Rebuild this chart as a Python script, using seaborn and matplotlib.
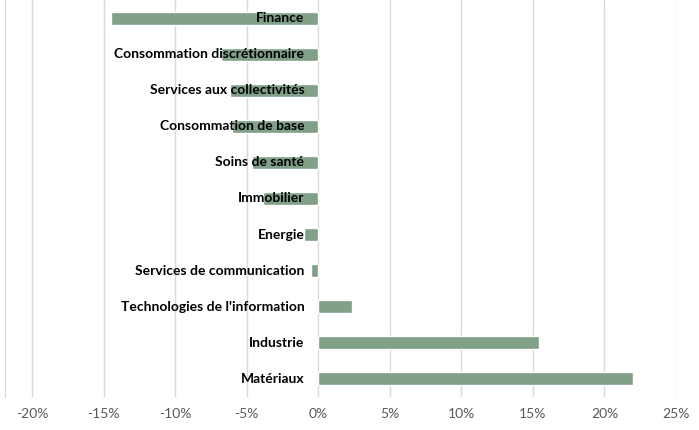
import matplotlib
matplotlib.use("Agg")
import matplotlib.pyplot as plt
import seaborn as sns
import pandas as pd
from matplotlib.ticker import FuncFormatter

# Données (performance par secteur)
secteurs = [
    "Finance",
    "Consommation discrétionnaire",
    "Services aux collectivités",
    "Consommation de base",
    "Soins de santé",
    "Immobilier",
    "Energie",
    "Services de communication",
    "Technologies de l'information",
    "Industrie",
    "Matériaux",
]
performances = [-0.145, -0.068, -0.062, -0.0605, -0.0465, -0.039, -0.010, -0.005, 0.0235, 0.1545, 0.220]

df = pd.DataFrame({"Secteur": secteurs, "Performance": performances})

sns.set_style("white")
plt.rcParams["font.family"] = ["Lato", "DejaVu Sans"]

fig = plt.figure(figsize=(6.99, 4.30), dpi=100)
ax = fig.add_axes([5 / 699, 33 / 430, 671 / 699, 397 / 430])

sns.barplot(
    data=df,
    x="Performance",
    y="Secteur",
    order=secteurs,
    orient="h",
    color="#80A088",
    saturation=1,
    width=0.36,
    ax=ax,
)

# Libellés à gauche de l'axe zéro
for i, s in enumerate(secteurs):
    ax.annotate(s, xy=(0, i), xytext=(-10, 0), textcoords="offset points",
                ha="right", va="center", fontsize=10, fontweight="bold",
                color="black")

ax.set_xlim(-0.219, 0.25)
ax.set_ylim(len(secteurs) - 0.5, -0.5)
ax.set_xticks([-0.20, -0.15, -0.10, -0.05, 0, 0.05, 0.10, 0.15, 0.20, 0.25])
ax.xaxis.set_major_formatter(FuncFormatter(lambda v, p: f"{v * 100:.0f}%"))
ax.set_yticks([])
ax.set_xlabel("")
ax.set_ylabel("")
ax.tick_params(axis="x", length=0, labelsize=10, labelcolor="#595959", pad=8)

ax.grid(axis="x", color="#D9D9D9", linewidth=1)
ax.set_axisbelow(True)
for sp in ["top", "right", "bottom"]:
    ax.spines[sp].set_visible(False)
ax.spines["left"].set_color("#D9D9D9")

fig.savefig("out.png", dpi=100)
